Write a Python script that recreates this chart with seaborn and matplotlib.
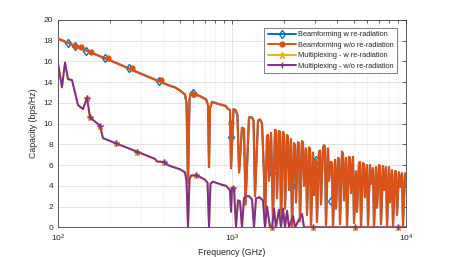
import matplotlib
matplotlib.use("Agg")
import matplotlib.pyplot as plt
from matplotlib.lines import Line2D
from matplotlib.ticker import LogLocator, NullFormatter
import seaborn as sns
import numpy as np

# Beamforming capacity (w and w/o re-radiation overlap almost everywhere)
bf_freq = [100, 133.8, 174.3, 227.2, 296.0, 385.7, 440.3, 470.3, 502.5, 537, 547.6,
           558.6, 569.8, 581.3, 655, 709, 728, 737.6, 747.4, 767.6, 853.1, 923.6,
           935.9, 974, 987, 1020, 1050, 1075, 1098, 1141, 1172, 1196, 1252, 1303,
           1330, 1356, 1411, 1449, 1488, 1528, 1548, 1589, 1610, 1632, 1676, 1698,
           1720, 1766, 1790, 1813, 1862, 1888, 1913, 1964, 1990, 2017, 2071, 2098,
           2126, 2183, 2212, 2272, 2302, 2332, 2395, 2427, 2459, 2525, 2559, 2593,
           2662, 2698, 2770, 2807, 2844, 2921, 2960, 3039, 3080, 3162, 3204, 3247,
           3334, 3379, 3424, 3469, 3562, 3610, 3707, 3756, 3806, 3908, 3960, 4067,
           4121, 4176, 4288, 4345, 4403, 4521, 4581, 4704, 4767, 4830, 4960, 5025,
           5160, 5229, 5369, 5441, 5513, 5661, 5737, 5813, 5969, 6049, 6211, 6294,
           6463, 6549, 6725, 6815, 6997, 7090, 7184, 7378, 7476, 7677, 7780, 7987,
           8091, 8308, 8420, 8645, 8760, 8877, 9114, 9236, 9484, 9610, 9868, 10000]
bf_cap = [18.2, 17.3, 16.5, 15.7, 14.85, 14.05, 13.65, 13.5, 13.2, 12.8, 12.0,
          4.3, 12.3, 13.0, 12.65, 12.35, 11.8, 5.8, 11.5, 12.1, 11.85, 11.7,
          11.5, 11.3, 5.7, 11.4, 11.3, 10.8, 5.3, 9.6, 9.5, 2.2, 10.6, 10.6,
          10.3, 3.0, 10.3, 10.4, 10.0, 5.0, 0.4, 8.8, 8.9, 4.5, 9.1, 5.2,
          0.8, 9.4, 9.3, 2.8, 9.3, 9.2, 0.3, 9.2, 9.0, 1.8, 8.9, 8.7,
          3.6, 8.5, 0.0, 8.1, 7.9, 2.4, 8.2, 8.1, 0.6, 8.3, 8.2, 4.0,
          7.6, 1.2, 7.7, 7.6, 0.0, 7.2, 3.1, 6.5, 0.5, 7.3, 7.4, 2.2,
          7.7, 7.9, 7.8, 0.2, 7.6, 4.5, 6.3, 6.2, 0.0, 6.5, 1.8, 6.7,
          6.6, 0.3, 7.3, 7.1, 2.6, 6.7, 0.0, 6.8, 6.7, 3.3, 6.8, 0.4,
          5.4, 1.5, 6.2, 6.3, 0.0, 6.2, 6.1, 2.9, 6.0, 0.2, 6.0, 4.2,
          5.7, 0.0, 5.8, 1.9, 6.0, 5.9, 0.3, 5.9, 3.6, 5.8, 0.1, 5.8,
          2.4, 5.5, 0.0, 5.4, 5.4, 1.2, 5.3, 3.9, 5.2, 0.2, 5.2, 4.7]

# Multiplexing capacity (w and w/o re-radiation overlap)
mx_freq = [100, 105.4, 109.7, 114.1, 120.4, 130.3, 139.2, 146.8, 152.8, 174.3, 181.4,
           215.4, 284.4, 360.9, 370.7, 406.7, 428.8, 452.1, 502.5, 537, 547.6,
           558.6, 569.8, 581.3, 629.3, 699.4, 723.3, 737.6, 752.3, 778, 875.9,
           923.6, 961.1, 974, 987, 1000, 1027, 1054, 1083, 1112, 1141, 1172, 1204,
           1252, 1303, 1338, 1374, 1439, 1507, 1548, 1589, 1654, 1698, 1743, 1790,
           1862, 1913, 1964, 2017, 2071, 2126, 2242, 2302, 2525, 2593, 10000]
mx_cap = [15.85, 13.5, 15.9, 14.3, 14.2, 11.8, 11.4, 12.5, 10.6, 9.8, 8.6,
          8.1, 7.3, 6.6, 6.35, 6.3, 6.0, 5.85, 5.6, 5.3, 4.5,
          0.0, 4.6, 5.0, 5.0, 4.6, 4.3, 0.0, 4.2, 4.4, 4.1,
          4.0, 3.7, 3.5, 1.5, 3.8, 3.8, 0.0, 2.6, 2.5, 0.0, 2.8, 3.0,
          3.0, 2.7, 0.0, 2.8, 2.9, 2.6, 0.0, 2.0, 0.0, 0.0, 1.8, 0.0,
          1.7, 0.0, 1.8, 0.0, 1.6, 0.0, 1.1, 0.0, 1.3, 0.0, 0.0]

# marker positions
bf_w_mk_freq = [114.1, 125.2, 144.8, 186.0, 255.9, 380.6, 597, 987, 1698, 2212, 3039, 3707]
bf_w_mk_cap = [17.75, 17.5, 17.05, 16.3, 15.35, 14.1, 13.0, 8.7, 5.2, 4.0, 6.5, 2.5]
bf_wo_mk_freq = [125.2, 135.1, 154.2, 194.6, 265.3, 390.8, 604.8, 987]
bf_wo_mk_cap = [17.5, 17.35, 16.9, 16.3, 15.35, 14.2, 12.9, 10.1]
mx_mk_freq = [146.8, 152.8, 174.3, 215.4, 284.4, 406.7, 625, 1010, 1698, 2921, 5092, 8995]
mx_mk_cap = [12.5, 10.6, 9.8, 8.1, 7.3, 6.3, 5.0, 3.8, 0, 0, 0, 0]

labels = ['Beamforming w re-radiation', 'Beamforming w/o re-radiation',
          'Multiplexing - w re-radiation', 'Multiplexing - w/o re-radiation']
colors = [(0, 0.447, 0.741), (0.85, 0.325, 0.098),
          (0.929, 0.694, 0.125), (0.494, 0.184, 0.556)]

sns.set_style('white')
plt.rcParams['font.family'] = ['Liberation Sans', 'DejaVu Sans']

fig = plt.figure(figsize=(4.49, 2.57), dpi=100)
ax = fig.add_axes([58 / 449, 29.7 / 257, 348 / 449, 207.3 / 257])

lw = 1.4
# Beamforming w re-radiation (blue, under orange)
sns.lineplot(x=bf_freq, y=bf_cap, color=colors[0], lw=lw, estimator=None, sort=False, ax=ax, zorder=2)
ax.plot(bf_w_mk_freq, bf_w_mk_cap, ls='none', marker='d', ms=4.5, mfc='none', mec=colors[0], mew=1.0, zorder=2)
# Beamforming w/o re-radiation (orange)
sns.lineplot(x=bf_freq, y=bf_cap, color=colors[1], lw=1.6, estimator=None, sort=False, ax=ax, zorder=3)
ax.plot(bf_wo_mk_freq, bf_wo_mk_cap, ls='none', marker='o', ms=3.5, mfc=colors[1], mec=colors[1], zorder=3)
# Multiplexing w re-radiation (yellow, under purple)
sns.lineplot(x=mx_freq, y=mx_cap, color=colors[2], lw=lw, estimator=None, sort=False, ax=ax, zorder=4)
ax.plot(mx_mk_freq, mx_mk_cap, ls='none', marker='*', ms=5, mfc=colors[2], mec=colors[2], zorder=4, clip_on=False)
# Multiplexing w/o re-radiation (purple)
sns.lineplot(x=mx_freq, y=mx_cap, color=colors[3], lw=lw, estimator=None, sort=False, ax=ax, zorder=5)
ax.plot(mx_mk_freq, mx_mk_cap, ls='none', marker='+', ms=5, mec=colors[3], mew=1.0, zorder=5, clip_on=False)

ax.set_xscale('log')
ax.set_xlim(100, 10000)
ax.set_ylim(0, 20)
ax.set_yticks(np.arange(0, 21, 2))
ax.xaxis.set_minor_locator(LogLocator(base=10, subs=np.arange(2, 10)))
ax.xaxis.set_minor_formatter(NullFormatter())

ax.grid(True, which='major', color='0.87', lw=0.6, ls='-')
ax.grid(True, which='minor', axis='x', color='0.85', lw=0.5, ls=':')
ax.set_axisbelow(True)

for s in ax.spines.values():
    s.set_color('0.25')
    s.set_linewidth(0.6)
ax.tick_params(axis='both', which='both', direction='in', top=True, right=True,
               labelsize=6, colors='0.15', length=3, width=0.5)
ax.tick_params(axis='x', which='minor', length=1.8)
ax.tick_params(axis='x', pad=4)

ax.set_xlabel('Frequency (GHz)', fontsize=6.3, color='0.15', labelpad=3)
ax.set_ylabel('Capacity (bps/Hz)', fontsize=6.3, color='0.15', labelpad=4)

handles = [
    Line2D([], [], color=colors[0], lw=lw, marker='d', ms=4.5, mfc='none', mec=colors[0]),
    Line2D([], [], color=colors[1], lw=lw, marker='o', ms=3.5, mfc=colors[1]),
    Line2D([], [], color=colors[2], lw=lw, marker='*', ms=5, mfc=colors[2]),
    Line2D([], [], color=colors[3], lw=lw, marker='+', ms=5),
]
leg = ax.legend(handles, labels, loc='upper right', bbox_to_anchor=(0.975, 0.962),
                fontsize=5.3, frameon=True, fancybox=False, framealpha=1,
                edgecolor='0.3', handlelength=3.9, handletextpad=0.25,
                labelspacing=0.45, borderpad=0.45, borderaxespad=0)
leg.get_frame().set_linewidth(0.5)

fig.savefig('out.png', dpi=100)
